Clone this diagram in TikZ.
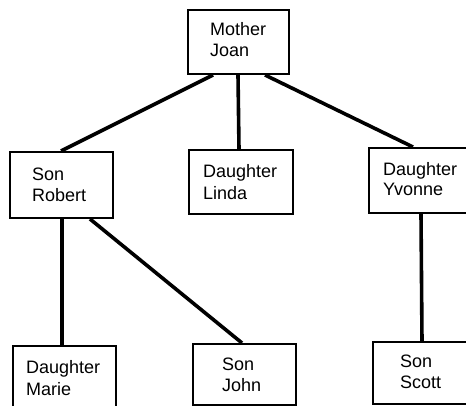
\documentclass[tikz,border=0pt]{standalone}
\usepackage{fontspec}
\setmainfont{Liberation Sans}
\usetikzlibrary{calc}
\begin{document}
\begin{tikzpicture}[x=1pt,y=-1pt,
  box/.style={draw=black,line width=2pt,rectangle,inner sep=0pt,anchor=north west},
  lbl/.style={anchor=base west,inner sep=0pt,font=\fontsize{18}{21}\selectfont},
  link/.style={line width=3.6pt,line cap=butt}]
\useasboundingbox (0,0) rectangle (466,406);
\clip (0,0) rectangle (466,406);
% family tree boxes
\node[box,minimum width=101pt,minimum height=64pt] (mother) at (187,9) {};
\node[box,minimum width=103pt,minimum height=66pt] (robert) at (9,151) {};
\node[box,minimum width=104pt,minimum height=64pt] (linda) at (188,149) {};
\node[box,minimum width=110pt,minimum height=65pt] (yvonne) at (368,147) {};
\node[box,minimum width=103pt,minimum height=70pt] (marie) at (12,345) {};
\node[box,minimum width=103pt,minimum height=61pt] (john) at (192,343) {};
\node[box,minimum width=106pt,minimum height=62pt] (scott) at (372,341) {};
% names
\node[lbl] (motherA) at (210,36) {Mother};
\node[lbl] (motherB) at (210,57) {Joan};
\node[lbl] (robertA) at (32,181) {Son};
\node[lbl] (robertB) at (32,202) {Robert};
\node[lbl] (lindaA) at (203,178) {Daughter};
\node[lbl] (lindaB) at (203,200) {Linda};
\node[lbl] (yvonneA) at (383,176) {Daughter};
\node[lbl] (yvonneB) at (383,196) {Yvonne};
\node[lbl] (marieA) at (26,373) {Daughter};
\node[lbl] (marieB) at (26,395) {Marie};
\node[lbl] (johnA) at (222,370) {Son};
\node[lbl] (johnB) at (222,391) {John};
\node[lbl] (scottA) at (400,367) {Son};
\node[lbl] (scottB) at (400,388) {Scott};
% parent-child links
\draw[link] ([xshift=26pt]mother.south west) -- ([xshift=52pt]robert.north west);
\draw[link] ([xshift=51pt]mother.south west) -- ([xshift=51pt]linda.north west);
\draw[link] ([xshift=78pt]mother.south west) -- ([xshift=45pt]yvonne.north west);
\draw[link] ([xshift=53pt]robert.south west) -- ([xshift=50pt]marie.north west);
\draw[link] ([xshift=81pt]robert.south west) -- ([xshift=50pt]john.north west);
\draw[link] ([xshift=53pt]yvonne.south west) -- ([xshift=50pt]scott.north west);
\end{tikzpicture}
\end{document}
